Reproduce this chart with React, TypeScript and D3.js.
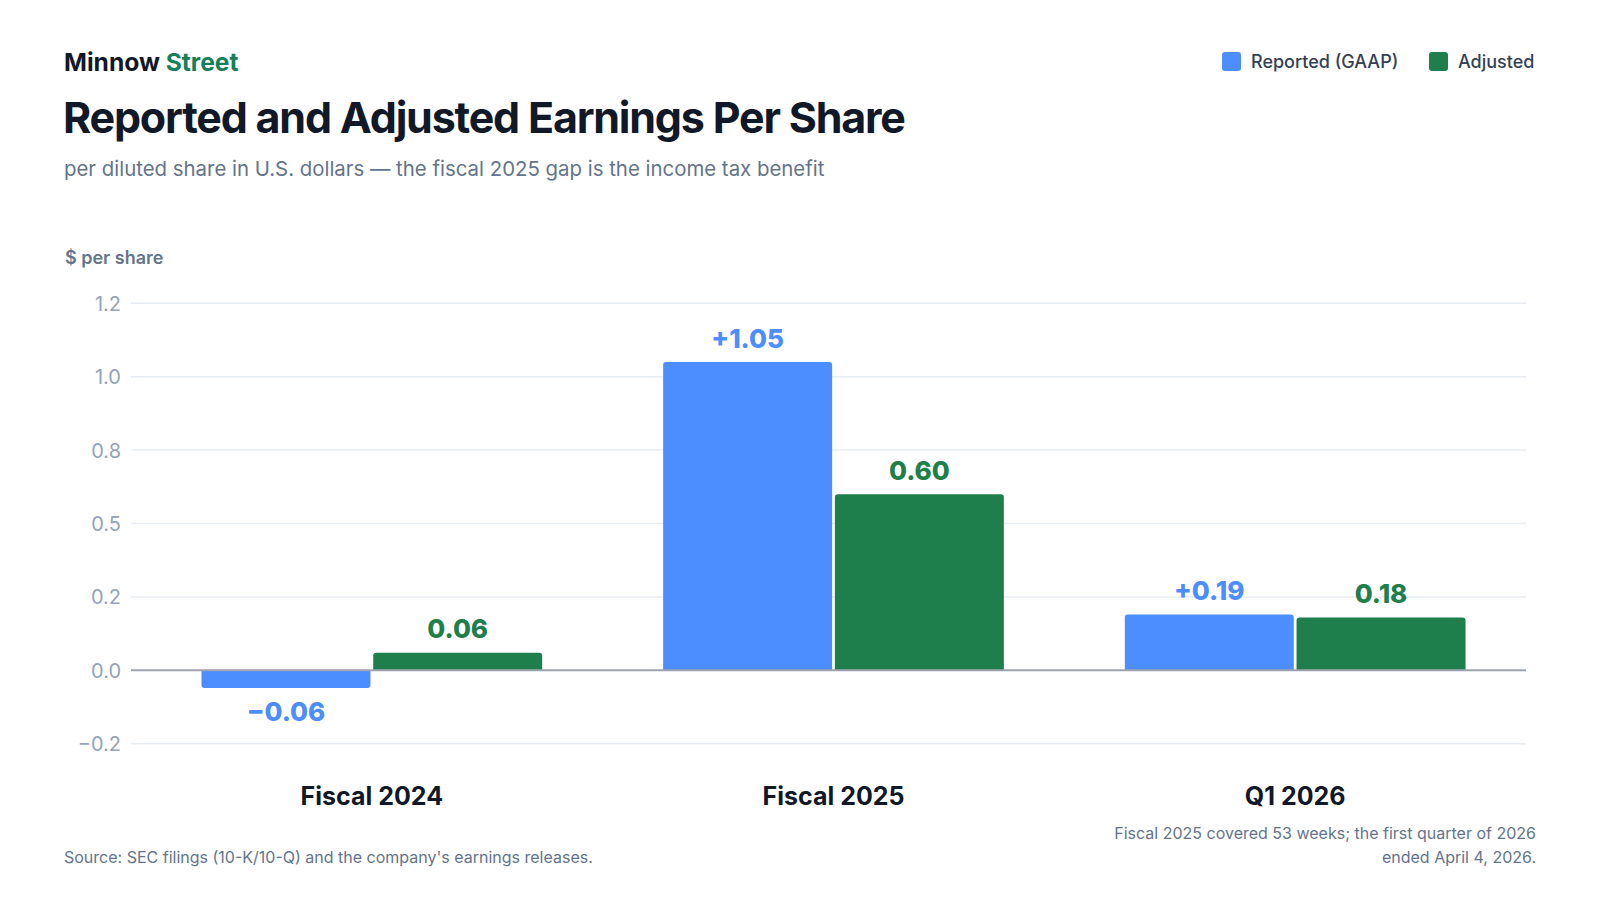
import { useEffect, useRef } from "react"
import * as d3 from "d3"

const categories = ["Fiscal 2024", "Fiscal 2025", "Q1 2026"]
const reported = [-0.06, 1.05, 0.19]
const adjusted = [0.06, 0.6, 0.18]
const reportedLabels = ["\u22120.06", "+1.05", "+0.19"]
const adjustedLabels = ["0.06", "0.60", "0.18"]
const tickValues = [-0.25, 0, 0.25, 0.5, 0.75, 1.0, 1.25]
const tickLabels = ["\u22120.2", "0.0", "0.2", "0.5", "0.8", "1.0", "1.2"]

const BLUE = "#4c8dff"
const GREEN = "#1e7f4d"
const FONT = "Inter, 'Noto Sans', sans-serif"

export default function App() {
  const svgRef = useRef<SVGSVGElement>(null)

  useEffect(() => {
    if (!svgRef.current) return
    const svg = d3.select(svgRef.current)
    svg.selectAll("*").remove()
    svg.attr("width", 1600).attr("height", 900).style("font-family", FONT)

    svg.append("rect").attr("width", 1600).attr("height", 900).attr("fill", "#ffffff")

    // header
    const brand = svg.append("text").attr("x", 64).attr("y", 71).style("font-size", "24.6px").style("font-weight", 700)
    brand.append("tspan").attr("fill", "#111827").text("Minnow ")
    brand.append("tspan").attr("fill", "#16805a").text("Street")

    svg
      .append("text")
      .attr("x", 63)
      .attr("y", 133)
      .attr("fill", "#111827")
      .style("font-size", "43px")
      .style("font-weight", 700)
      .style("letter-spacing", "-1.2px")
      .text("Reported and Adjusted Earnings Per Share")

    svg
      .append("text")
      .attr("x", 64)
      .attr("y", 176)
      .attr("fill", "#64748b")
      .style("font-size", "20.4px")
      .text("per diluted share in U.S. dollars \u2014 the fiscal 2025 gap is the income tax benefit")

    svg
      .append("text")
      .attr("x", 65)
      .attr("y", 264)
      .attr("fill", "#64748b")
      .style("font-size", "18px")
      .style("font-weight", 600)
      .text("$ per share")

    // legend
    const legendItems = [
      { label: "Reported (GAAP)", color: BLUE, x: 1222 },
      { label: "Adjusted", color: GREEN, x: 1429 },
    ]
    const legend = svg
      .selectAll(".legend-item")
      .data(legendItems)
      .enter()
      .append("g")
      .attr("class", "legend-item")
      .attr("transform", (d) => `translate(${d.x}, 52)`)
    legend.append("rect").attr("width", 19).attr("height", 19).attr("rx", 3).attr("fill", (d) => d.color)
    legend
      .append("text")
      .attr("x", 29)
      .attr("y", 16)
      .attr("fill", "#334155")
      .style("font-size", "18px")
      .style("font-weight", 500)
      .text((d) => d.label)

    // chart
    const plotLeft = 131
    const plotRight = 1526
    const y = d3.scaleLinear().domain([-0.25, 1.25]).range([743.7, 303.3])

    const x0 = d3.scaleBand<string>().domain(categories).range([141, plotRight]).paddingInner(0.262).paddingOuter(0.131)
    const x1 = d3.scaleBand<string>().domain(["reported", "adjusted"]).range([0, x0.bandwidth()]).paddingInner(0.016)

    const g = svg.append("g")

    g.selectAll(".grid-line")
      .data(tickValues.filter((d) => d !== 0))
      .enter()
      .append("line")
      .attr("x1", plotLeft)
      .attr("x2", plotRight)
      .attr("y1", (d) => y(d))
      .attr("y2", (d) => y(d))
      .attr("stroke", "#e8edf3")
      .attr("stroke-width", 1.5)

    g.selectAll(".tick-label")
      .data(tickValues)
      .enter()
      .append("text")
      .attr("x", 121)
      .attr("y", (d) => y(d) + 7.5)
      .attr("text-anchor", "end")
      .attr("fill", "#94a3b8")
      .style("font-size", "20px")
      .text((_, i) => tickLabels[i])

    const rows = categories.map((c, i) => ({
      category: c,
      bars: [
        { key: "reported", value: reported[i], label: reportedLabels[i], color: BLUE },
        { key: "adjusted", value: adjusted[i], label: adjustedLabels[i], color: GREEN },
      ],
    }))

    const group = g
      .selectAll(".group")
      .data(rows)
      .enter()
      .append("g")
      .attr("transform", (d) => `translate(${x0(d.category)},0)`)

    const bar = group
      .selectAll(".bar")
      .data((d) => d.bars)
      .enter()
      .append("g")

    bar
      .append("path")
      .attr("fill", (d) => d.color)
      .attr("d", (d) => {
        const bx = x1(d.key) as number
        const w = x1.bandwidth()
        const y0 = y(0)
        const yv = y(d.value)
        const r = 3
        if (d.value >= 0) {
          return `M${bx},${y0}V${yv + r}Q${bx},${yv} ${bx + r},${yv}H${bx + w - r}Q${bx + w},${yv} ${bx + w},${yv + r}V${y0}Z`
        }
        return `M${bx},${y0}V${yv - r}Q${bx},${yv} ${bx + r},${yv}H${bx + w - r}Q${bx + w},${yv} ${bx + w},${yv - r}V${y0}Z`
      })

    bar
      .append("text")
      .attr("x", (d) => (x1(d.key) as number) + x1.bandwidth() / 2)
      .attr("y", (d) => (d.value >= 0 ? y(d.value) - 14.5 : y(d.value) + 33))
      .attr("text-anchor", "middle")
      .attr("fill", (d) => d.color)
      .style("font-size", "26px")
      .style("font-weight", 800)
      .text((d) => d.label)

    // zero line
    g.append("line")
      .attr("x1", plotLeft)
      .attr("x2", plotRight)
      .attr("y1", y(0))
      .attr("y2", y(0))
      .attr("stroke", "#9ca3af")
      .attr("stroke-width", 2)

    g.selectAll(".cat-label")
      .data(categories)
      .enter()
      .append("text")
      .attr("x", (d) => (x0(d) as number) + x0.bandwidth() / 2)
      .attr("y", 805)
      .attr("text-anchor", "middle")
      .attr("fill", "#111827")
      .style("font-size", "25px")
      .style("font-weight", 700)
      .text((d) => d)

    // footer
    svg
      .append("text")
      .attr("x", 64)
      .attr("y", 863)
      .attr("fill", "#64748b")
      .style("font-size", "16px")
      .text("Source: SEC filings (10-K/10-Q) and the company's earnings releases.")

    const note = svg
      .append("text")
      .attr("text-anchor", "end")
      .attr("fill", "#64748b")
      .style("font-size", "16px")
    note.append("tspan").attr("x", 1536).attr("y", 839).text("Fiscal 2025 covered 53 weeks; the first quarter of 2026")
    note.append("tspan").attr("x", 1536).attr("y", 863).text("ended April 4, 2026.")
  }, [])

  return <svg ref={svgRef} style={{ position: "absolute", left: 0, top: 0, display: "block" }}></svg>
}
